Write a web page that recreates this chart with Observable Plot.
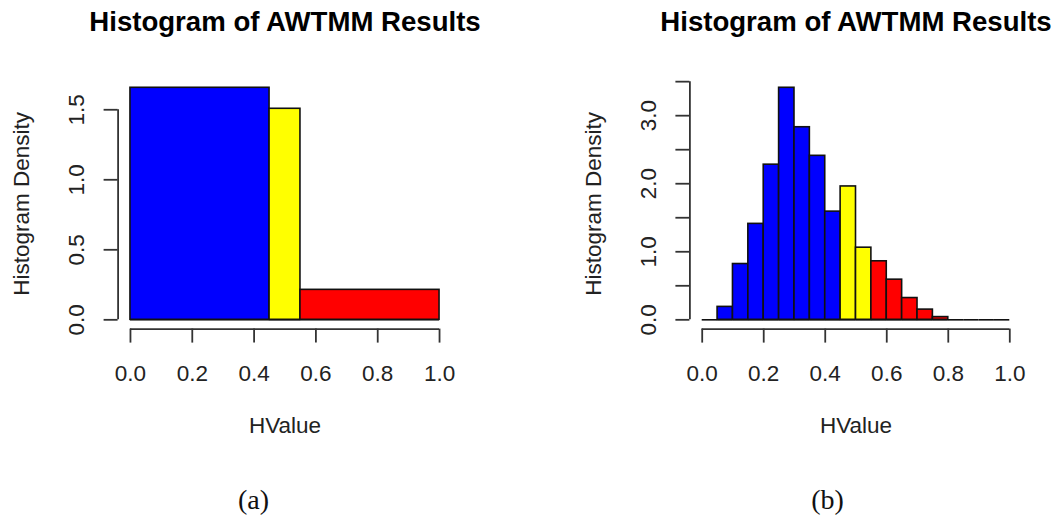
<!DOCTYPE html>
<html>
<head>
<meta charset="utf-8">
<script src="https://cdn.jsdelivr.net/npm/d3@7"></script>
<script src="https://cdn.jsdelivr.net/npm/@observablehq/plot@0.6"></script>
<style>
  html, body { margin: 0; padding: 0; background: #fff; }
  #wrap { position: relative; width: 1055px; height: 521px; overflow: hidden; }
  .panel { position: absolute; top: 0; }
  .cap { position: absolute; font-family: "Liberation Serif", "DejaVu Serif", serif; font-size: 28px; color: #111; transform: translate(-50%, -50%); white-space: nowrap; }
</style>
</head>
<body>
<div id="wrap"></div>
<script>
// ---------- data ----------
const titleText = "Histogram of AWTMM Results";
const xLabel = "HValue";
const yLabel = "Histogram Density";
const captions = ["(a)", "(b)"];

// Panel (a): three bins
const binLowA  = [0.00, 0.45, 0.55];
const binHighA = [0.45, 0.55, 1.00];
const densityA = [1.657, 1.507, 0.214];
const groupA   = ["low", "mid", "high"];

// Panel (b): twenty bins of width 0.05
const binLowB  = [0.00, 0.05, 0.10, 0.15, 0.20, 0.25, 0.30, 0.35, 0.40, 0.45, 0.50, 0.55, 0.60, 0.65, 0.70, 0.75, 0.80, 0.85, 0.90, 0.95];
const binHighB = [0.05, 0.10, 0.15, 0.20, 0.25, 0.30, 0.35, 0.40, 0.45, 0.50, 0.55, 0.60, 0.65, 0.70, 0.75, 0.80, 0.85, 0.90, 0.95, 1.00];
const densityB = [0, 0.19, 0.82, 1.41, 2.28, 3.41, 2.83, 2.41, 1.59, 1.96, 1.06, 0.86, 0.59, 0.32, 0.15, 0.04, 0, 0, 0, 0];
const groupB   = ["low","low","low","low","low","low","low","low","low","mid","mid","high","high","high","high","high","high","high","high","high"];

const xTicks  = [0.0, 0.2, 0.4, 0.6, 0.8, 1.0];
const yTicksA = [0.0, 0.5, 1.0, 1.5];
const yLabelsA = ["0.0", "0.5", "1.0", "1.5"];
const yTicksB = [0.0, 0.5, 1.0, 1.5, 2.0, 2.5, 3.0, 3.5];
const yLabelsB = ["0.0", "", "1.0", "", "2.0", "", "3.0", ""];

const groups = ["low", "mid", "high"];
const groupColors = ["#0000ff", "#ffff00", "#ff0000"];

// ---------- drawing ----------
const FONT = "Liberation Sans, Arial, Helvetica, sans-serif";
const AXIS = "#333";
const H = 521;

function panel({lo, hi, dens, grp, yTicks, yLabels, width, marginLeft, marginRight}) {
  const bins = dens.map((d, i) => ({lo: lo[i], hi: hi[i], d, g: grp[i]}));
  const yMax = d3.max(dens);
  const span = xTicks[xTicks.length - 1] - xTicks[0];
  const xDom = [xTicks[0] - 0.04 * span, xTicks[xTicks.length - 1] + 0.04 * span];
  const yDom = [-0.04 * yMax, 1.04 * yMax];
  const tickLab = yTicks.map((t, i) => ({t, s: yLabels[i]}));
  return Plot.plot({
    width, height: H,
    marginLeft, marginRight, marginTop: 78, marginBottom: H - 328.6,
    style: {fontFamily: FONT, background: "transparent", overflow: "visible"},
    x: {domain: xDom, axis: null},
    y: {domain: yDom, axis: null},
    color: {domain: groups, range: groupColors},
    marks: [
      Plot.rectY(bins.filter(b => b.d > 0), {x1: "lo", x2: "hi", y1: 0, y2: "d", fill: "g", stroke: "#111", strokeWidth: 1.6}),
      Plot.ruleY(bins, {x1: "lo", x2: "hi", y: 0, stroke: "#111", strokeWidth: 1.6}),
      // x axis
      Plot.ruleY([yDom[0]], {x1: xTicks[0], x2: xTicks[xTicks.length - 1], stroke: AXIS, strokeWidth: 1.8}),
      Plot.axisX({ticks: xTicks, tickSize: 14, tickPadding: 22, tickFormat: d3.format(".1f"), fontSize: 22.5, stroke: AXIS, strokeWidth: 1.8, fill: "#222", label: null}),
      // y axis
      Plot.ruleX([xDom[0]], {y1: yTicks[0], y2: yTicks[yTicks.length - 1], stroke: AXIS, strokeWidth: 1.8}),
      Plot.axisY({ticks: yTicks, tickSize: 14, tickFormat: () => "", stroke: AXIS, strokeWidth: 1.8, label: null}),
      Plot.text(tickLab, {x: () => xDom[0], y: "t", text: "s", rotate: -90, dx: -41.5, fontSize: 22.5, fill: "#222", lineAnchor: "middle", textAnchor: "middle"}),
      // labels
      Plot.text([titleText], {frameAnchor: "top", dy: -56, fontSize: 27.6, fontWeight: "bold", fill: "#000", lineAnchor: "middle", textAnchor: "middle"}),
      Plot.text([xLabel], {frameAnchor: "bottom", dy: 97, fontSize: 22.5, fill: "#222", lineAnchor: "middle", textAnchor: "middle"}),
      Plot.text([yLabel], {frameAnchor: "left", dx: -96, rotate: -90, fontSize: 22.5, fill: "#222", lineAnchor: "middle", textAnchor: "middle"})
    ]
  });
}

const wrap = document.getElementById("wrap");

const pa = panel({lo: binLowA, hi: binHighA, dens: densityA, grp: groupA, yTicks: yTicksA, yLabels: yLabelsA, width: 527, marginLeft: 117.6, marginRight: 527 - 451.4});
pa.classList.add("panel"); pa.style.left = "0px";
wrap.appendChild(pa);

const pb = panel({lo: binLowB, hi: binHighB, dens: densityB, grp: groupB, yTicks: yTicksB, yLabels: yLabelsB, width: 528, marginLeft: 162.4, marginRight: 528 - 494.6});
pb.classList.add("panel"); pb.style.left = "527px";
wrap.appendChild(pb);

const capX = [253.5, 827.5];
captions.forEach((c, i) => {
  const el = document.createElement("div");
  el.className = "cap";
  el.textContent = c;
  el.style.left = capX[i] + "px";
  el.style.top = "500px";
  wrap.appendChild(el);
});
</script>
</body>
</html>
